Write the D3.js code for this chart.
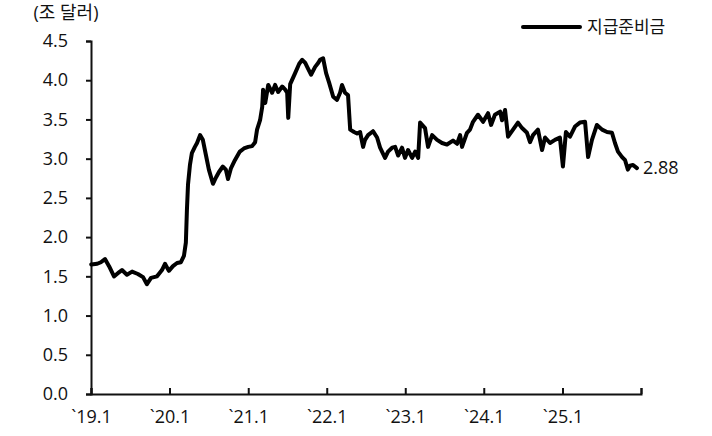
<!DOCTYPE html>
<html>
<head>
<meta charset="utf-8">
<script src="https://cdn.jsdelivr.net/npm/d3@7"></script>
<style>
  body { margin: 0; background: #fff; }
  svg { display: block; }
  text { font-family: "Open Sans", "Noto Sans CJK KR", sans-serif; fill: #111; }
</style>
</head>
<body>
<div id="chart"></div>
<script>
// reserve balances, trillion USD
const dates = [
  '2019-01-02','2019-01-30','2019-02-16','2019-03-07','2019-03-26','2019-04-18','2019-05-06','2019-05-25',
  '2019-06-17','2019-07-11','2019-08-07','2019-08-31','2019-09-18','2019-10-07','2019-11-04','2019-11-27',
  '2019-12-11','2019-12-29','2020-01-17','2020-02-05','2020-02-23','2020-03-08','2020-03-17','2020-03-22',
  '2020-03-27','2020-04-05','2020-04-14','2020-04-28','2020-05-08','2020-05-22','2020-06-04','2020-06-18',
  '2020-07-02','2020-07-21','2020-08-04','2020-08-18','2020-09-05','2020-09-19','2020-09-29','2020-10-13',
  '2020-10-31','2020-11-23','2020-12-12','2021-01-01','2021-01-19','2021-02-02','2021-02-11','2021-02-25',
  '2021-03-07','2021-03-11','2021-03-21','2021-04-04','2021-04-22','2021-05-06','2021-05-20','2021-06-08',
  '2021-06-22','2021-07-01','2021-07-06','2021-07-15','2021-08-07','2021-08-26','2021-09-09','2021-09-23',
  '2021-10-02','2021-10-20','2021-11-08','2021-11-22','2021-12-01','2021-12-15','2021-12-29','2022-01-12',
  '2022-01-31','2022-02-18','2022-03-04','2022-03-13','2022-03-27','2022-04-10','2022-04-20','2022-05-08',
  '2022-05-22','2022-06-05','2022-06-19','2022-06-28','2022-07-12','2022-08-04','2022-08-23','2022-09-06',
  '2022-09-29','2022-10-13','2022-11-01','2022-11-15','2022-11-29','2022-12-17','2022-12-31','2023-01-14',
  '2023-02-02','2023-02-16','2023-03-02','2023-03-11','2023-04-03','2023-04-17','2023-05-06','2023-05-29',
  '2023-06-21','2023-07-14','2023-08-11','2023-08-30','2023-09-13','2023-09-22','2023-10-15','2023-10-29',
  '2023-11-12','2023-12-05','2023-12-29','2024-01-21','2024-02-04','2024-02-22','2024-03-17','2024-03-26',
  '2024-04-09','2024-04-23','2024-05-16','2024-06-08','2024-06-27','2024-07-20','2024-08-03','2024-08-17',
  '2024-09-09','2024-09-28','2024-10-12','2024-11-04','2024-11-27','2024-12-20','2025-01-03','2025-01-17',
  '2025-02-05','2025-02-28','2025-03-23','2025-04-16','2025-04-30','2025-05-18','2025-06-10','2025-07-04',
  '2025-07-27','2025-08-19','2025-09-02','2025-09-16','2025-10-05','2025-10-19','2025-11-01','2025-11-11',
  '2025-11-25','2025-12-13'
];
const reserves = [
  1.65,1.66,1.68,1.72,1.63,1.50,1.54,1.58,
  1.52,1.56,1.53,1.49,1.40,1.48,1.50,1.58,
  1.66,1.57,1.63,1.67,1.68,1.76,1.93,2.35,
  2.67,2.92,3.07,3.15,3.20,3.30,3.24,3.05,
  2.86,2.68,2.76,2.83,2.90,2.86,2.74,2.88,
  2.98,3.09,3.13,3.15,3.16,3.21,3.37,3.49,
  3.66,3.88,3.71,3.94,3.84,3.94,3.85,3.92,
  3.88,3.84,3.52,3.95,4.09,4.21,4.26,4.22,
  4.17,4.07,4.17,4.22,4.26,4.28,4.09,3.97,
  3.79,3.75,3.84,3.94,3.84,3.81,3.37,3.34,
  3.32,3.34,3.15,3.24,3.30,3.35,3.27,3.14,
  3.01,3.09,3.14,3.15,3.04,3.14,3.01,3.11,
  3.01,3.09,3.01,3.46,3.39,3.15,3.30,3.24,
  3.20,3.18,3.23,3.19,3.30,3.15,3.33,3.37,
  3.47,3.56,3.47,3.58,3.43,3.56,3.60,3.49,
  3.62,3.28,3.37,3.46,3.39,3.33,3.21,3.30,
  3.37,3.11,3.27,3.20,3.24,3.27,2.90,3.34,
  3.28,3.41,3.46,3.47,3.02,3.24,3.43,3.37,
  3.34,3.33,3.20,3.09,3.02,2.98,2.86,2.91,
  2.92,2.88
];
const yTicks = [0, 0.5, 1.0, 1.5, 2.0, 2.5, 3.0, 3.5, 4.0, 4.5];
const xTickDates = ['2019-01-01','2020-01-01','2021-01-01','2022-01-01','2023-01-01','2024-01-01','2025-01-01','2026-01-01'];
const xTickLabels = ['`19.1','`20.1','`21.1','`22.1','`23.1','`24.1','`25.1',''];
const unitLabel = '(조 달러)';
const seriesName = '지급준비금';
const lastLabel = '2.88';

const WIDTH = 712;
const HEIGHT = 436;
const margin = {left: 91, right: 71, top: 41, bottom: 42};
let parse = d3.utcParse('%Y-%m-%d');

let svg = d3.select('#chart')
  .append('svg')
  .attr('width', WIDTH)
  .attr('height', HEIGHT);

let x = d3.scaleUtc()
  .domain([parse(xTickDates[0]), parse(xTickDates[xTickDates.length - 1])])
  .range([margin.left, WIDTH - margin.right]);
let y = d3.scaleLinear()
  .domain([0, 4.5])
  .range([HEIGHT - margin.bottom, margin.top]);

let data = dates.map((d, i) => ({date: parse(d), value: reserves[i]}));

// y axis
let yAxis = svg.append('g')
  .attr('transform', `translate(${margin.left},0)`)
  .call(d3.axisLeft(y).tickValues(yTicks).tickSize(5).tickPadding(18).tickFormat(d3.format('.1f')));
yAxis.selectAll('path, line').attr('stroke', '#111').attr('stroke-width', 2);
yAxis.selectAll('text').attr('font-size', '18px');

// x axis, ticks pointing up
let xAxis = svg.append('g')
  .attr('transform', `translate(0,${HEIGHT - margin.bottom})`)
  .call(d3.axisBottom(x).tickValues(xTickDates.map(parse)).tickSize(-6).tickPadding(16)
    .tickFormat((d, i) => xTickLabels[i]));
xAxis.selectAll('path, line').attr('stroke', '#111').attr('stroke-width', 2);
xAxis.selectAll('text').attr('font-size', '18px');

// series line
let line = d3.line()
  .x(d => x(d.date))
  .y(d => y(d.value));
svg.append('path')
  .datum(data)
  .attr('d', line)
  .attr('fill', 'none')
  .attr('stroke', '#000')
  .attr('stroke-width', 4)
  .attr('stroke-linejoin', 'round')
  .attr('stroke-linecap', 'round');

// last value label
let last = data[data.length - 1];
svg.append('text')
  .attr('x', x(last.date) + 6)
  .attr('y', y(last.value))
  .attr('dy', '0.35em')
  .attr('font-size', '18px')
  .text(lastLabel);

// unit label
svg.append('text')
  .attr('x', 66)
  .attr('y', 13)
  .attr('dy', '0.35em')
  .attr('text-anchor', 'middle')
  .attr('font-size', '18px')
  .text(unitLabel);

// legend
let legend = svg.append('g');
legend.append('line')
  .attr('x1', 523)
  .attr('x2', 580)
  .attr('y1', 27)
  .attr('y2', 27)
  .attr('stroke', '#000')
  .attr('stroke-width', 4)
  .attr('stroke-linecap', 'round');
legend.append('text')
  .attr('x', 587)
  .attr('y', 27)
  .attr('dy', '0.35em')
  .attr('font-size', '17px')
  .text(seriesName);
</script>
</body>
</html>
